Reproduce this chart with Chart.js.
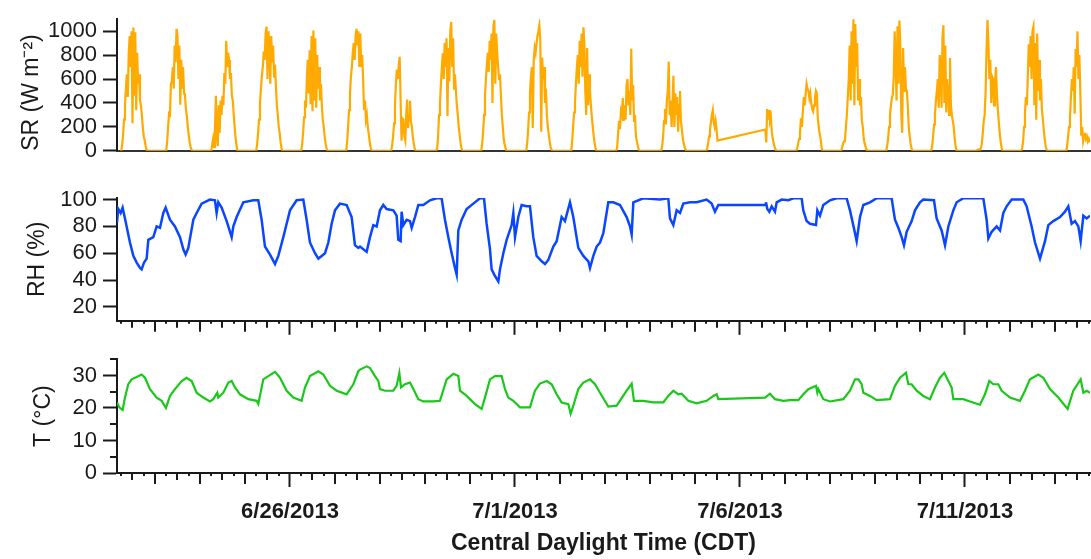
<!DOCTYPE html>
<html>
<head>
<meta charset="utf-8">
<script src="https://cdn.jsdelivr.net/npm/chart.js@4.4.1/dist/chart.umd.min.js"></script>
<style>
  html, body { margin: 0; padding: 0; background: #fff; }
  #wrap { position: relative; width: 1091px; height: 559px; }
  #wrap canvas { position: absolute; left: 0; }
</style>
</head>
<body>
<div id="wrap">
  <canvas id="srChart" width="1091" height="170" style="top:0px"></canvas>
  <canvas id="rhChart" width="1091" height="170" style="top:170px"></canvas>
  <canvas id="tChart" width="1091" height="219" style="top:340px"></canvas>
</div>
<script>
const FONT = "'Liberation Sans', Arial, Helvetica, sans-serif";
const INK = '#1a1a1a';

// time axis: days since 6/22/2013 00:00 CDT
const xStart = 0.156, xEnd = 21.778;
const dateTicks = [4, 9, 14, 19];
const dateLabels = ['6/26/2013', '7/1/2013', '7/6/2013', '7/11/2013'];

const srTicks = [0, 200, 400, 600, 800, 1000];
const rhTicks = [20, 40, 60, 80, 100];
const tTicks = [0, 10, 20, 30];
const tMinorTicks = [5, 15, 25, 35];

// solar radiation, one row per day, every half hour from 06:00 to 20:00 (null = no data)
const srFirstHour = 6, srStepHours = 0.5;
const srDaily = [
  [0, 50, 140, 260, 380, 520, 640, 450, 820, 960, 700, 1000, 230, 1030, 460, 990, 340, 820, 560, 640, 420, 380, 300, 200, 120, 90, 40, 10, 0], // 6/22
  [0, 80, 200, 310, 300, 560, 580, 700, 520, 880, 740, 1020, 960, 600, 880, 385, 760, 520, 700, 480, 460, 350, 290, 200, 130, 70, 30, 10, 0], // 6/23
  [0, 50, 100, 30, 200, 460, 120, 40, 380, 150, 420, 300, 460, 380, 650, 560, 920, 700, 820, 760, 600, 650, 460, 420, 300, 200, 110, 40, 0], // 6/24
  [0, 60, 150, 260, 400, 520, 620, 700, 830, 760, 980, 1037, 600, 1000, 900, 560, 960, 740, 880, 620, 720, 540, 380, 300, 200, 150, 70, 20, 0], // 6/25
  [0, 60, 150, 280, 420, 360, 600, 760, 480, 840, 390, 960, 330, 1005, 420, 940, 360, 800, 520, 700, 420, 560, 380, 260, 200, 120, 60, 20, 0], // 6/26
  [0, 80, 200, 340, 480, 620, 700, 820, 900, 760, 960, 1020, 880, 1000, 700, 980, 700, 800, 600, 350, 420, 260, 300, 200, 140, 80, 30, 0, 0], // 6/27
  [0, 50, 120, 230, 380, 560, 680, 600, 720, 786, 420, 85, 270, 260, 120, 85, 300, 428, 190, 298, 418, 250, 200, 120, 60, 20, 0, 0, 0], // 6/28
  [0, 20, 120, 300, 400, 560, 700, 815, 600, 900, 700, 940, 290, 860, 580, 1000, 1077, 700, 940, 520, 640, 500, 380, 300, 200, 130, 60, 20, 0], // 6/29
  [0, 60, 150, 300, 460, 600, 720, 820, 660, 920, 760, 980, 400, 1040, 1095, 560, 980, 820, 700, 600, 640, 460, 300, 200, 100, 50, 20, 0, 0], // 6/30
  [0, 60, 170, 320, 480, 620, 700, 190, 760, 860, 820, 900, 960, 1000, 1050, 920, 160, 780, 600, 700, 400, 520, 300, 200, 140, 80, 30, 10, 0], // 7/1
  [0, 80, 200, 320, 400, 560, 700, 800, 560, 920, 700, 980, 620, 1032, 900, 500, 300, 860, 380, 640, 500, 380, 280, 200, 120, 60, 20, 0, 0], // 7/2
  [0, 30, 150, 250, 180, 330, 300, 442, 250, 380, 260, 548, 600, 380, 500, 300, 852, 420, 550, 250, 300, 120, 80, 40, 10, 0, 0, 0, 0], // 7/3
  [0, 40, 120, 250, 350, 220, 420, 500, 746, 300, 420, 200, 380, 627, 200, 480, 300, 450, 160, 380, 500, 250, 180, 100, 60, 30, 10, 0, 0], // 7/4
  [0, 20, 60, 120, 180, 240, 300, 340, 240, 200, 250, 180, 85, null, null, null, null, null, null, null, null, null, null, null, null, null, null, null, null], // 7/5
  [null, null, null, null, null, null, null, null, null, null, null, null, null, null, null, 178, 70, 349, 260, 340, 250, 280, 150, 100, 60, 30, 10, 0, 0], // 7/6
  [0, 20, 60, 100, 150, 272, 200, 320, 450, 380, 470, 561, 520, 500, 440, 480, 400, 350, 330, 380, 440, 500, 480, 270, 200, 140, 100, 30, 0], // 7/7
  [0, 30, 60, 80, 100, 200, 300, 450, 600, 880, 420, 1000, 560, 1103, 380, 1060, 700, 900, 420, 600, 380, 450, 250, 200, 100, 60, 30, 10, 0], // 7/8
  [0, 40, 100, 200, 300, 380, 440, 470, 620, 1000, 760, 420, 1040, 560, 1090, 900, 320, 150, 860, 500, 700, 520, 500, 380, 200, 120, 60, 20, 0], // 7/9
  [0, 40, 120, 220, 300, 420, 500, 600, 360, 800, 700, 360, 950, 1050, 400, 880, 320, 600, 500, 300, 775, 380, 300, 250, 200, 100, 40, 0, 0], // 7/10
  [0, 5, 10, 10, 15, 20, 60, 150, 250, 300, 500, 850, 1095, 900, 600, 760, 400, 620, 600, 380, 560, 700, 480, 350, 250, 150, 80, 30, 0], // 7/11
  [0, 20, 80, 200, 320, 450, 380, 620, 890, 700, 960, 600, 1000, 1037, 380, 900, 260, 980, 500, 760, 420, 600, 350, 270, 180, 100, 40, 10, 0], // 7/12
  [0, 40, 120, 200, 280, 450, 600, 500, 700, 310, 850, 700, 998, 600, 800, 500, 125, 200, 80, 120, 150, 100, 120, 80, 100, 70] // 7/13
];

// relative humidity (%)
const rhTime = [0.156, 0.185, 0.237, 0.281, 0.333, 0.370, 0.444, 0.519, 0.593, 0.667, 0.704, 0.756, 0.815, 0.852, 0.963,
  1.037, 1.111, 1.185, 1.237, 1.333, 1.444, 1.556, 1.630, 1.681, 1.741, 1.852, 1.926,
  2.037, 2.222, 2.333, 2.370, 2.407, 2.481, 2.593, 2.704, 2.741, 2.815, 2.963,
  3.185, 3.296, 3.370, 3.444, 3.556, 3.667, 3.741, 3.852, 3.926,
  4.000, 4.148, 4.296, 4.370, 4.444, 4.556, 4.630, 4.704, 4.778, 4.852, 4.926,
  5.000, 5.111, 5.259, 5.370, 5.444, 5.519, 5.556, 5.704, 5.778, 5.852, 5.926,
  6.000, 6.074, 6.148, 6.296, 6.370, 6.407, 6.459, 6.481, 6.519, 6.593, 6.667, 6.704, 6.778, 6.852, 6.963,
  7.111, 7.259, 7.370, 7.444, 7.519, 7.593, 7.667, 7.704, 7.741, 7.815, 7.926,
  8.074, 8.222, 8.311, 8.370, 8.444, 8.481, 8.556, 8.630, 8.667, 8.741, 8.815, 8.926, 8.963,
  9.000, 9.074, 9.148, 9.259, 9.333, 9.407, 9.481, 9.593, 9.667, 9.741, 9.852, 9.926,
  10.037, 10.111, 10.222, 10.296, 10.407, 10.519, 10.630, 10.667, 10.741, 10.815, 10.889, 10.963,
  11.074, 11.185, 11.333, 11.481, 11.556, 11.593, 11.630, 11.852,
  12.222, 12.407, 12.444, 12.519, 12.593, 12.667, 12.741, 12.889,
  13.037, 13.259, 13.370, 13.444, 13.519,
  14.556, 14.578, 14.607, 14.652, 14.704, 14.778, 14.815, 14.926,
  15.074, 15.185, 15.370, 15.407, 15.481, 15.556, 15.689, 15.719, 15.778, 15.852,
  16.000, 16.148, 16.370, 16.444, 16.556, 16.593, 16.667, 16.741, 16.889,
  17.037, 17.370, 17.444, 17.519, 17.593, 17.644, 17.704, 17.815, 17.889,
  18.000, 18.074, 18.311, 18.370, 18.481, 18.556, 18.630, 18.741, 18.815, 18.963,
  19.407, 19.481, 19.519, 19.593, 19.704, 19.778, 19.852, 19.926,
  20.037, 20.296, 20.370, 20.481, 20.556, 20.667, 20.778, 20.852, 20.963,
  21.111, 21.222, 21.296, 21.370, 21.444, 21.519, 21.570, 21.630, 21.704, 21.778];
const rh = [83, 93, 90, 94, 86, 80, 68, 58, 53, 49, 48, 53, 56, 70, 72,
  80, 79, 90, 94, 85, 80, 72, 63, 59, 64, 85, 90,
  97, 100, 99.5, 90, 98, 94, 84, 72, 80, 87, 98,
  99.5, 99.5, 85, 65, 59, 52, 58, 72, 82,
  92, 99.5, 100, 85, 68, 60, 56, 58, 60, 68, 82,
  92, 97, 96, 87, 66, 64, 65, 61, 72, 81, 80,
  92, 96, 93, 92, 88, 70, 69, 91, 81, 85, 84, 79, 87, 96, 96,
  99.5, 101, 101, 85, 72, 60, 49, 44, 77, 85, 93,
  97, 101, 101, 82, 63, 48, 43, 39, 48, 60, 70, 81, 90,
  72, 87, 96, 95, 95, 72, 58, 54, 52, 55, 65, 69,
  87, 84, 98, 87, 64, 58, 54, 49, 58, 65, 68, 75,
  98, 98, 96, 87, 80, 74, 98, 101,
  100, 101, 86, 81, 92, 90, 97, 98,
  98, 100, 97, 91, 96,
  96, 98, 93, 91, 95, 91, 98, 100,
  99.5, 101, 101, 92, 84, 82, 81, 92, 88, 96,
  99.5, 101, 101, 92, 75, 69, 87, 96, 98,
  101, 101, 85, 79, 72, 66, 76, 84, 92,
  98, 100, 99.5, 86, 77, 66, 80, 92, 98, 101,
  101, 85, 71, 76, 80, 77, 90, 95,
  100, 100, 95, 80, 68, 56, 69, 81, 84,
  87, 91, 95, 82, 84, 80, 69, 88, 86, 88];

// air temperature (degC)
const tTime = [0.156, 0.207, 0.281, 0.333, 0.407, 0.481, 0.593, 0.704, 0.778, 0.889,
  1.037, 1.148, 1.244, 1.333, 1.444, 1.593, 1.704, 1.815, 1.926,
  2.074, 2.222, 2.296, 2.385, 2.407, 2.519, 2.630, 2.704, 2.778, 2.889,
  3.074, 3.259, 3.296, 3.407, 3.519, 3.667, 3.778, 3.926,
  4.074, 4.259, 4.333, 4.444, 4.630, 4.741, 4.889,
  5.037, 5.259, 5.407, 5.519, 5.556, 5.704, 5.778, 5.889, 5.963,
  6.000, 6.111, 6.296, 6.370, 6.430, 6.467, 6.556, 6.667, 6.741, 6.852, 6.963,
  7.185, 7.333, 7.481, 7.630, 7.741, 7.778, 7.926,
  8.111, 8.259, 8.333, 8.444, 8.556, 8.704, 8.778, 8.852, 8.963,
  9.111, 9.333, 9.444, 9.556, 9.704, 9.815, 9.926,
  10.037, 10.185, 10.237, 10.296, 10.407, 10.519, 10.667, 10.778, 10.889,
  11.074, 11.259, 11.481, 11.593, 11.644, 11.852,
  12.074, 12.296, 12.407, 12.519, 12.630, 12.704, 12.852,
  13.037, 13.259, 13.407, 13.481, 13.519,
  14.556, 14.667, 14.778, 14.963,
  15.111, 15.296, 15.407, 15.519, 15.689, 15.719, 15.741, 15.852,
  16.000, 16.296, 16.444, 16.556, 16.630, 16.704, 16.741, 16.889,
  17.037, 17.333, 17.444, 17.556, 17.689, 17.741, 17.815, 17.926,
  18.074, 18.222, 18.333, 18.444, 18.541, 18.630, 18.704, 18.741, 18.963,
  19.111, 19.333, 19.444, 19.541, 19.630, 19.741, 19.815,
  20.000, 20.222, 20.333, 20.444, 20.630, 20.741, 20.889,
  21.074, 21.281, 21.407, 21.570, 21.630, 21.704, 21.778];
const tempC = [21.7, 20.2, 19.4, 23.2, 27.3, 28.8, 29.5, 30.3, 29.3, 25.8,
  23.2, 22.2, 20.0, 23.7, 25.8, 28.3, 29.3, 28.3, 24.7,
  23.2, 22.0, 22.7, 24.7, 23.2, 24.7, 27.8, 28.3, 26.3, 24.2,
  22.7, 22.2, 21.2, 28.8, 29.8, 31.1, 29.3, 25.3,
  23.2, 22.2, 26.3, 29.8, 31.3, 30.3, 26.8,
  25.3, 24.2, 27.3, 31.3, 31.8, 32.8, 32.3, 29.8, 28.3,
  25.8, 25.3, 25.3, 26.8, 30.8, 26.3, 27.3, 27.8, 25.8, 22.7, 22.0,
  22.0, 22.2, 28.8, 30.5, 29.8, 25.3, 23.7,
  21.2, 19.7, 23.2, 28.8, 29.8, 29.8, 25.8, 23.2, 22.2,
  20.2, 20.2, 25.3, 27.5, 28.3, 27.3, 24.2,
  21.7, 21.2, 18.2, 20.7, 25.8, 27.8, 28.8, 27.3, 24.7,
  20.4, 20.7, 25.3, 27.5, 22.2, 22.2,
  21.7, 21.7, 23.7, 25.3, 24.2, 24.4, 22.2,
  21.4, 22.2, 23.7, 24.2, 22.7,
  23.2, 24.4, 22.7, 22.2,
  22.4, 22.4, 24.2, 25.8, 26.8, 24.7, 25.8, 22.7,
  22.0, 22.7, 25.3, 28.8, 28.8, 27.3, 24.7, 23.7,
  22.4, 22.7, 26.8, 29.3, 30.8, 27.3, 27.3, 25.3,
  23.7, 22.7, 26.3, 29.3, 30.8, 28.3, 26.3, 22.7, 22.7,
  22.0, 21.0, 24.2, 28.3, 27.3, 27.3, 25.3,
  23.2, 22.2, 25.3, 28.8, 30.3, 29.3, 25.8,
  23.2, 19.7, 25.3, 28.8, 24.7, 25.3, 24.7];

// build point lists
const srPoints = [];
srDaily.forEach((vals, day) => {
  vals.forEach((v, i) => {
    if (v !== null) srPoints.push({ x: day + (srFirstHour + i * srStepHours) / 24, y: v });
  });
});
const rhPoints = rhTime.map((t, i) => ({ x: t, y: rh[i] }));
const tPoints = tTime.map((t, i) => ({ x: t, y: tempC[i] }));

// 6 h / 12 h / daily tick marks of different length, and minor y ticks
const extraTicks = {
  id: 'extraTicks',
  afterDraw(chart, args, opts) {
    const ctx = chart.ctx;
    ctx.save();
    ctx.strokeStyle = INK;
    ctx.lineWidth = 2;
    ctx.beginPath();
    if (opts.timeTicks) {
      const xs = chart.scales.x;
      for (let q = Math.ceil(xs.min * 4); q <= Math.floor(xs.max * 4); q++) {
        const day = q / 4;
        if (dateTicks.includes(day)) continue;
        const len = q % 4 === 0 ? 11 : (q % 4 === 2 ? 7 : 3);
        const px = Math.round(xs.getPixelForValue(day));
        ctx.moveTo(px, xs.top);
        ctx.lineTo(px, xs.top + len);
      }
    }
    if (opts.yMinor) {
      const ys = chart.scales.y;
      opts.yMinor.forEach(v => {
        const py = Math.round(ys.getPixelForValue(v));
        ctx.moveTo(ys.right - 7, py);
        ctx.lineTo(ys.right, py);
      });
    }
    ctx.stroke();
    ctx.restore();
  }
};

function makePanel(id, p) {
  return new Chart(document.getElementById(id), {
    type: 'line',
    data: {
      datasets: [{
        data: p.points,
        borderColor: p.color,
        borderWidth: p.lineWidth,
        pointRadius: 0,
        tension: 0,
        fill: false
      }]
    },
    options: {
      responsive: false,
      animation: false,
      events: [],
      layout: { padding: { left: p.padLeft, top: p.padTop, right: 1, bottom: 0 } },
      plugins: {
        legend: { display: false },
        tooltip: { enabled: false },
        extraTicks: { timeTicks: p.timeTicks, yMinor: p.yMinor }
      },
      scales: {
        x: {
          type: 'linear',
          min: xStart,
          max: xEnd,
          z: p.xOnTop ? 1 : 0,
          afterBuildTicks: axis => { axis.ticks = p.timeTicks ? dateTicks.map(v => ({ value: v })) : []; },
          afterFit: axis => { axis.height = p.xHeight; },
          grid: { drawOnChartArea: false, drawTicks: p.timeTicks, tickLength: 14, tickWidth: 2, tickColor: INK },
          border: { display: true, color: p.xBorder || INK, width: 2 },
          ticks: {
            display: p.timeTicks,
            autoSkip: false,
            maxRotation: 0,
            padding: 12,
            color: INK,
            font: { family: FONT, size: 22, weight: 'bold' },
            callback: (v, i) => p.xLabels ? dateLabels[i] : ''
          },
          title: {
            display: !!p.xTitle,
            text: p.xTitle || '',
            color: INK,
            font: { family: FONT, size: 23, weight: 'bold' },
            padding: { top: 0, bottom: 2 }
          }
        },
        y: {
          min: p.yMin,
          max: p.yMax,
          afterBuildTicks: axis => { axis.ticks = p.yTicks.map(v => ({ value: v })); },
          afterFit: axis => { axis.width = 117 - p.padLeft; },
          grid: { drawOnChartArea: false, tickLength: 14, tickWidth: 2, tickColor: INK },
          border: { display: true, color: INK, width: 2 },
          ticks: {
            autoSkip: false,
            padding: 6,
            color: INK,
            font: { family: FONT, size: 22 },
            callback: v => String(v)
          },
          title: {
            display: true,
            text: p.yTitle,
            align: p.titleAlign || 'center',
            color: INK,
            font: { family: FONT, size: 23 },
            padding: 0
          }
        }
      }
    },
    plugins: [extraTicks]
  });
}

const srChart = makePanel('srChart', {
  points: srPoints, color: 'rgb(255,170,0)', lineWidth: 2.2,
  padLeft: 18, padTop: 13, xHeight: 19, xOnTop: true, xBorder: '#333',
  timeTicks: false, xLabels: false,
  yMin: 0, yMax: 1100, yTicks: srTicks, yTitle: 'SR (W m\u207B\u00B2)', titleAlign: 'start'
});

const rhChart = makePanel('rhChart', {
  points: rhPoints, color: 'rgb(10,70,255)', lineWidth: 2.5,
  padLeft: 24, padTop: 28, xHeight: 18,
  timeTicks: true, xLabels: false,
  yMin: 9.6, yMax: 101.2, yTicks: rhTicks, yTitle: 'RH (%)'
});

const tChart = makePanel('tChart', {
  points: tPoints, color: 'rgb(25,200,25)', lineWidth: 2.2,
  padLeft: 30, padTop: 18, xHeight: 86,
  timeTicks: true, xLabels: true, xTitle: 'Central Daylight Time (CDT)',
  yMin: 0, yMax: 35, yTicks: tTicks, yMinor: tMinorTicks, yTitle: 'T (\u00B0C)'
});
</script>
</body>
</html>
